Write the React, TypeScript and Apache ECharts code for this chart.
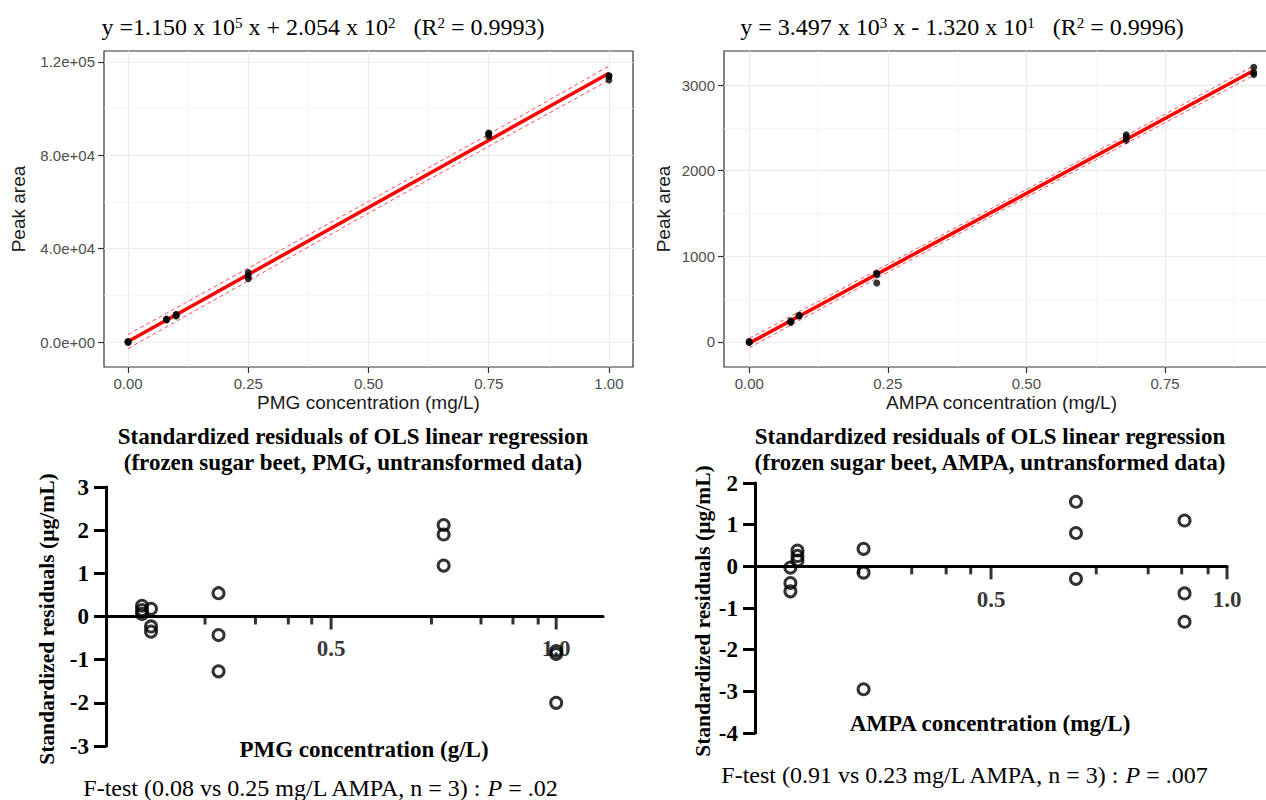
import React, { useEffect, useRef } from "react";
import * as echarts from "echarts";

// ---------------- PMG calibration (top left) ----------------
const pmgConc = [0, 0.08, 0.1, 0.25, 0.75, 1.0];
const pmgPeakArea = [
  [-150, 50, 200],
  [9800, 9650, 9500],
  [11900, 11350, 11150],
  [29750, 28350, 27100],
  [89500, 89200, 88100],
  [114050, 113950, 112300],
];
const pmgFitX = [0, 1.0];
const pmgFitY = [205, 115205];
const pmgBandX = [0, 0.25, 0.5, 0.75, 1.0];
const pmgBandUpper = [3205, 31655, 60205, 89055, 118205];
const pmgBandLower = [-2795, 26255, 55205, 83855, 112205];
const pmgXTicks = [0, 0.25, 0.5, 0.75, 1.0];
const pmgXMinor = [0.125, 0.375, 0.625, 0.875];
const pmgYTicks = [0, 40000, 80000, 120000];
const pmgYMinor = [20000, 60000, 100000];

// ---------------- AMPA calibration (top right) ----------------
const ampaConc = [0, 0.075, 0.09, 0.23, 0.68, 0.91];
const ampaPeakArea = [
  [-5, 0, 5],
  [248, 236, 229],
  [312, 307, 303],
  [806, 786, 688],
  [2419, 2393, 2355],
  [3207, 3146, 3122],
];
const ampaFitX = [0, 0.91];
const ampaFitY = [-13.2, 3169];
const ampaBandX = [0, 0.23, 0.455, 0.68, 0.91];
const ampaBandUpper = [42, 838, 1623, 2412, 3224];
const ampaBandLower = [-68, 744, 1533, 2318, 3114];
const ampaXTicks = [0, 0.25, 0.5, 0.75];
const ampaXMinor = [0.125, 0.375, 0.625, 0.875];
const ampaYTicks = [0, 1000, 2000, 3000];
const ampaYMinor = [500, 1500, 2500];

// ---------------- Standardized residuals ----------------
const pmgResConc = [0.08, 0.1, 0.25, 0.75, 1.0];
const pmgStdRes = [
  [0.25, 0.15, 0.06],
  [0.18, -0.23, -0.35],
  [0.54, -0.43, -1.27],
  [2.12, 1.9, 1.18],
  [-0.8, -0.87, -2.0],
];
const ampaResConc = [0.075, 0.09, 0.23, 0.68, 0.91];
const ampaStdRes = [
  [-0.03, -0.4, -0.6],
  [0.38, 0.25, 0.14],
  [0.42, -0.15, -2.95],
  [1.55, 0.8, -0.3],
  [1.1, -0.65, -1.33],
];
const resMajorTicks = [0.5, 1.0];
const resMinorTicks = [0.22, 0.332, 0.405, 0.457, 0.723, 0.833, 0.904, 0.96];

const SERIF = "'Liberation Serif', 'Times New Roman', serif";
const SANS = "'Liberation Sans', Arial, sans-serif";

const pairs = (xs: number[], ys: number[]) => xs.map((x, i) => [x, ys[i]]);
const reps = (xs: number[], ys: number[][]) => {
  const out: number[][] = [];
  xs.forEach((x, i) => ys[i].forEach((y) => out.push([x, y])));
  return out;
};
const sci = (v: number) => {
  const s = v.toExponential(1);
  const [m, e] = s.split("e");
  const sign = e[0] === "-" ? "-" : "+";
  const d = e.replace(/[+-]/, "").padStart(2, "0");
  return `${m}e${sign}${d}`;
};

function topX(grid: number, min: number, max: number, ticks: number[], name: string) {
  return {
    type: "value",
    gridIndex: grid,
    min,
    max,
    position: "bottom",
    axisLine: { show: false, onZero: false },
    axisTick: { show: true, length: 6, lineStyle: { color: "#333", width: 1.2 }, customValues: ticks },
    axisLabel: {
      show: true,
      customValues: ticks,
      formatter: (v: number) => v.toFixed(2),
      color: "#4d4d4d",
      fontSize: 15,
      fontFamily: SANS,
      margin: 9,
    },
    splitLine: { show: true, lineStyle: { color: "#ebebeb", width: 1.2 } },
    name,
    nameLocation: "middle",
    nameGap: 26,
    nameTextStyle: { fontSize: 19, color: "#1a1a1a", fontFamily: SANS },
  };
}
function minorX(grid: number, min: number, max: number, ticks: number[]) {
  return {
    type: "value",
    gridIndex: grid,
    min,
    max,
    position: "bottom",
    axisLine: { show: false, onZero: false },
    axisTick: { show: false, customValues: ticks },
    axisLabel: { show: false, customValues: ticks },
    splitLine: { show: true, lineStyle: { color: "#f3f3f3", width: 0.8 } },
  };
}
function topY(grid: number, min: number, max: number, ticks: number[], fmt: (v: number) => string, gap: number) {
  return {
    type: "value",
    gridIndex: grid,
    min,
    max,
    position: "left",
    axisLine: { show: false, onZero: false },
    axisTick: { show: true, length: 6, lineStyle: { color: "#333", width: 1.2 }, customValues: ticks },
    axisLabel: { show: true, customValues: ticks, formatter: fmt, color: "#4d4d4d", fontSize: 15, fontFamily: SANS, margin: 9 },
    splitLine: { show: true, lineStyle: { color: "#ebebeb", width: 1.2 } },
    name: "Peak area",
    nameLocation: "middle",
    nameGap: gap,
    nameTextStyle: { fontSize: 19, color: "#1a1a1a", fontFamily: SANS },
  };
}
function minorY(grid: number, min: number, max: number, ticks: number[]) {
  return {
    type: "value",
    gridIndex: grid,
    min,
    max,
    position: "left",
    axisLine: { show: false, onZero: false },
    axisTick: { show: false, customValues: ticks },
    axisLabel: { show: false, customValues: ticks },
    splitLine: { show: true, lineStyle: { color: "#f3f3f3", width: 0.8 } },
  };
}
function resX(grid: number, max: number) {
  return {
    type: "value",
    gridIndex: grid,
    min: 0,
    max,
    interval: 0.5,
    position: "bottom",
    axisLine: { show: true, onZero: true, lineStyle: { color: "#000", width: 3 } },
    axisTick: { show: false },
    axisLabel: { show: false },
    splitLine: { show: false },
  };
}
function resY(grid: number, min: number, max: number) {
  return {
    type: "value",
    gridIndex: grid,
    min,
    max,
    interval: 1,
    position: "left",
    axisLine: { show: true, onZero: true, lineStyle: { color: "#000", width: 3 } },
    axisTick: { show: true, length: 12, lineStyle: { color: "#000", width: 3 } },
    axisLabel: {
      show: true,
      color: "#000",
      fontSize: 23,
      fontWeight: "bold",
      fontFamily: SERIF,
      margin: 17,
    },
    splitLine: { show: false },
  };
}

function calibSeries(xi: number, bx: number[], up: number[], lo: number[], fx: number[], fy: number[], pts: number[][]) {
  const band = (d: number[]) => ({
    type: "line",
    xAxisIndex: xi,
    yAxisIndex: xi,
    data: pairs(bx, d),
    symbol: "none",
    silent: true,
    z: 3,
    lineStyle: { color: "#ff4d4d", width: 1, type: [4, 3] },
  });
  return [
    band(up),
    band(lo),
    {
      type: "line",
      xAxisIndex: xi,
      yAxisIndex: xi,
      data: pairs(fx, fy),
      symbol: "none",
      silent: true,
      z: 4,
      lineStyle: { color: "#ff0000", width: 3.5 },
    },
    {
      type: "scatter",
      xAxisIndex: xi,
      yAxisIndex: xi,
      data: pts,
      symbolSize: 7,
      z: 5,
      itemStyle: { color: "#000" },
    },
  ];
}
function resSeries(xi: number, pts: number[][], labelDist: number) {
  return [
    {
      type: "scatter",
      xAxisIndex: xi,
      yAxisIndex: xi,
      data: resMajorTicks.map((t) => [t, 0]),
      symbol: "rect",
      symbolSize: [3, 13],
      symbolOffset: [0, 6.5],
      silent: true,
      z: 2,
      itemStyle: { color: "#000" },
    },
    {
      type: "scatter",
      xAxisIndex: xi,
      yAxisIndex: xi,
      data: resMinorTicks.map((t) => [t, 0]),
      symbol: "rect",
      symbolSize: [3, 8],
      symbolOffset: [0, 4],
      silent: true,
      z: 2,
      itemStyle: { color: "#000" },
    },
    {
      // tick labels "0.5" and "1.0" placed under the zero line
      type: "scatter",
      xAxisIndex: xi,
      yAxisIndex: xi,
      data: resMajorTicks.map((t) => [t, 0]),
      symbol: "circle",
      symbolSize: 1,
      silent: true,
      z: 1,
      itemStyle: { color: "rgba(0,0,0,0)" },
      label: {
        show: true,
        position: "bottom",
        distance: labelDist,
        formatter: (p: any) => p.value[0].toFixed(1),
        color: "#000",
        fontSize: 23,
        fontWeight: "bold",
        fontFamily: SERIF,
      },
    },
    {
      type: "scatter",
      xAxisIndex: xi,
      yAxisIndex: xi,
      data: pts,
      symbol: "circle",
      symbolSize: 11,
      z: 5,
      itemStyle: { color: "rgba(0,0,0,0)", borderColor: "#000", borderWidth: 3 },
    },
  ];
}

const eqRich = {
  sup: { fontSize: 15, fontFamily: SERIF, fill: "#000", verticalAlign: "top" },
};
const italicRich = {
  it: { fontSize: 24, fontFamily: SERIF, fontStyle: "italic", fill: "#000" },
};

function txt(x: number, y: number, text: string, extra: any = {}, rot = 0) {
  return {
    type: "text",
    x,
    y,
    rotation: rot,
    silent: true,
    style: {
      text,
      fontSize: 24,
      fontFamily: SERIF,
      fill: "#000",
      align: "center",
      verticalAlign: "middle",
      ...extra,
    },
  };
}

const option: any = {
  animation: false,
  backgroundColor: "#fff",
  grid: [
    { left: 104, top: 51, width: 529, height: 316, show: true, borderColor: "#333", borderWidth: 1.2, backgroundColor: "transparent" },
    { left: 724, top: 51, width: 555, height: 316, show: true, borderColor: "#333", borderWidth: 1.2, backgroundColor: "transparent" },
    { left: 106, top: 487, width: 497, height: 259 },
    { left: 755, top: 483, width: 472, height: 250 },
  ],
  xAxis: [
    topX(0, -0.05, 1.05, pmgXTicks, "PMG concentration (mg/L)"),
    minorX(0, -0.05, 1.05, pmgXMinor),
    topX(1, -0.0455, 0.9555, ampaXTicks, "AMPA concentration (mg/L)"),
    minorX(1, -0.0455, 0.9555, ampaXMinor),
    resX(2, 1.104),
    resX(3, 1.0),
  ],
  yAxis: [
    topY(0, -10700, 124700, pmgYTicks, sci, 76),
    minorY(0, -10700, 124700, pmgYMinor),
    topY(1, -292, 3397, ampaYTicks, (v: number) => String(v), 51),
    minorY(1, -292, 3397, ampaYMinor),
    resY(2, -3, 3),
    resY(3, -4, 2),
  ],
  series: [
    ...calibSeries(0, pmgBandX, pmgBandUpper, pmgBandLower, pmgFitX, pmgFitY, reps(pmgConc, pmgPeakArea)),
    ...calibSeries(2, ampaBandX, ampaBandUpper, ampaBandLower, ampaFitX, ampaFitY, reps(ampaConc, ampaPeakArea)),
    ...resSeries(4, reps(pmgResConc, pmgStdRes), 20),
    ...resSeries(5, reps(ampaResConc, ampaStdRes), 21),
  ],
  graphic: [
    txt(323, 27, "y =1.150 x 10{sup|5} x + 2.054 x 10{sup|2}   (R{sup|2} = 0.9993)", { rich: eqRich }),
    txt(962, 27, "y = 3.497 x 10{sup|3} x - 1.320 x 10{sup|1}   (R{sup|2} = 0.9996)", { rich: eqRich }),
    txt(353, 449, "Standardized residuals of OLS linear regression\n(frozen sugar beet, PMG, untransformed data)", {
      fontWeight: "bold",
      fontSize: 23,
      lineHeight: 26,
    }),
    txt(990, 449, "Standardized residuals of OLS linear regression\n(frozen sugar beet, AMPA, untransformed data)", {
      fontWeight: "bold",
      fontSize: 23,
      lineHeight: 26,
    }),
    txt(364, 749, "PMG concentration (g/L)", { fontWeight: "bold", fontSize: 23 }),
    txt(990, 723, "AMPA concentration (mg/L)", { fontWeight: "bold", fontSize: 23 }),
    txt(47, 619, "Standardized residuals (µg/mL)", { fontWeight: "bold", fontSize: 21.5 }, Math.PI / 2),
    txt(703, 611, "Standardized residuals (µg/mL)", { fontWeight: "bold", fontSize: 21.5 }, Math.PI / 2),
    txt(320, 788, "F-test (0.08 vs 0.25 mg/L AMPA, n = 3) : {it|P} = .02", { rich: italicRich }),
    txt(964, 775, "F-test (0.91 vs 0.23 mg/L AMPA, n = 3) : {it|P} = .007", { rich: italicRich }),
  ],
};

export default function App() {
  const ref = useRef<HTMLDivElement>(null);
  useEffect(() => {
    if (!ref.current) return;
    const chart = echarts.init(ref.current, null, { renderer: "svg" });
    chart.setOption(option);
    return () => chart.dispose();
  }, []);
  return (
    <div
      style={{
        position: "fixed",
        left: 0,
        top: 0,
        width: 1266,
        height: 800,
        overflow: "hidden",
        background: "#fff",
      }}
    >
      <div ref={ref} style={{ width: 1280, height: 800 }} />
    </div>
  );
}
